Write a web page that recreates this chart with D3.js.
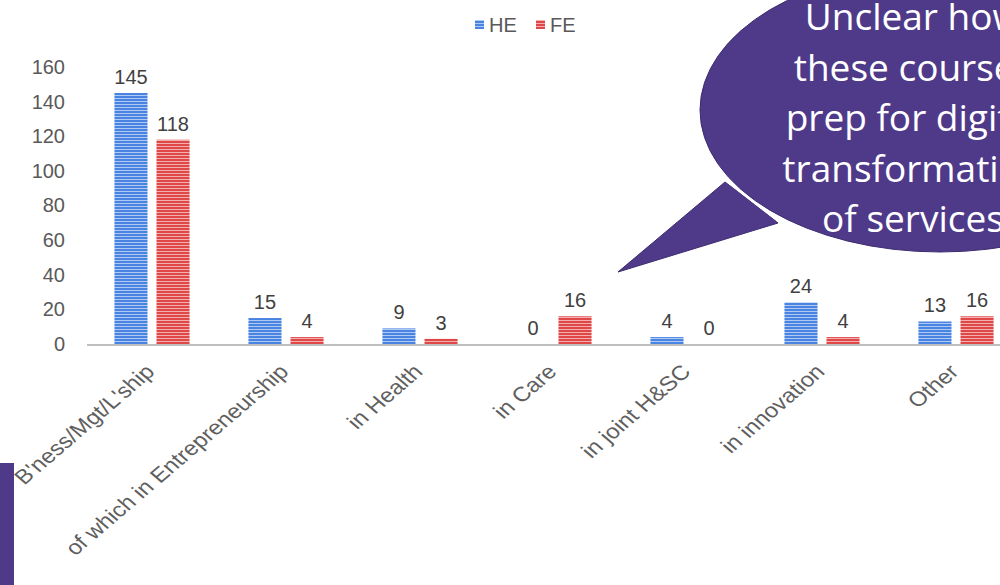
<!DOCTYPE html>
<html lang="en">
<head>
<meta charset="UTF-8">
<title>HE / FE courses</title>
<script src="https://d3js.org/d3.v7.min.js"></script>
<style>
  body { margin: 0; background: #fff; }
  svg { display: block; font-family: "Liberation Sans", Arial, sans-serif; }
</style>
</head>
<body>
<div id="chart"></div>
<script>
// data
const categories = ["B'ness/Mgt/L'ship", "of which in Entrepreneurship", "in Health", "in Care", "in joint H&SC", "in innovation", "Other"];
const heValues = [145, 15, 9, 0, 4, 24, 13];
const feValues = [118, 4, 3, 16, 0, 4, 16];
const seriesNames = ["HE", "FE"];
const yTicks = [0, 20, 40, 60, 80, 100, 120, 140, 160];
const bubbleLines = ["Unclear how", "these courses", "prep for digital", "transformation", "of services"];

const width = 1000, height = 585;
const svg = d3.select("#chart").append("svg")
    .attr("width", width)
    .attr("height", height);

const colors = { HE: "#4a84e2", FE: "#e04848" };

// striped fills, like the original bars
const defs = svg.append("defs");
seriesNames.forEach(s => {
    const p = defs.append("pattern")
        .attr("id", "stripe-" + s)
        .attr("patternUnits", "userSpaceOnUse")
        .attr("width", 6).attr("height", 3);
    p.append("rect").attr("width", 6).attr("height", 3).attr("fill", colors[s]);
    p.append("rect").attr("y", 2).attr("width", 6).attr("height", 0.8)
        .attr("fill", "#fff").attr("opacity", 0.7);
});

const x = d3.scaleBand().domain(categories).range([85, 85 + 134 * categories.length]);
const xs = d3.scaleBand().domain(seriesNames).range([0, x.bandwidth()]).paddingInner(0.214).paddingOuter(0.7);
const y = d3.scaleLinear().domain([0, 160]).range([344, 67]);

// y tick labels (no axis line)
const yAxis = d3.axisLeft(y).tickValues(yTicks).tickSize(0).tickPadding(0);
svg.append("g").attr("transform", "translate(65,0)").call(yAxis)
    .call(g => g.select(".domain").remove())
    .selectAll("text")
    .attr("font-size", 20).attr("fill", "#595959").attr("font-family", "Liberation Sans, Arial, sans-serif");

const rows = categories.map((c, i) => ({ c, HE: heValues[i], FE: feValues[i] }));

const groups = svg.append("g").selectAll("g").data(rows).join("g")
    .attr("transform", d => `translate(${x(d.c)},0)`);

groups.selectAll("rect").data(d => seriesNames.map(s => ({ s, v: d[s] }))).join("rect")
    .attr("x", d => xs(d.s))
    .attr("width", xs.bandwidth())
    .attr("y", d => y(d.v))
    .attr("height", d => y(0) - y(d.v))
    .attr("fill", d => `url(#stripe-${d.s})`);

groups.selectAll("text").data(d => seriesNames.map(s => ({ s, v: d[s] }))).join("text")
    .attr("x", d => xs(d.s) + xs.bandwidth() / 2)
    .attr("y", d => y(d.v) - 9)
    .attr("text-anchor", "middle")
    .attr("font-size", 20)
    .attr("fill", "#404040")
    .text(d => d.v);

// x axis line
svg.append("line")
    .attr("x1", 87).attr("x2", width)
    .attr("y1", y(0) + 1).attr("y2", y(0) + 1)
    .attr("stroke", "#bfbfbf").attr("stroke-width", 2);

// rotated category labels (-45deg, the picture is a bit stretched sideways)
svg.append("g").selectAll("text").data(categories).join("text")
    .attr("transform", d => `translate(${x(d) + x.bandwidth() / 2 + 4},${y(0) + 29}) scale(1.17,1) rotate(-45)`)
    .attr("text-anchor", "end")
    .attr("font-size", 20.5)
    .attr("fill", "#5f5f5f")
    .text(d => d);

// legend
const legend = svg.append("g").attr("transform", "translate(475,24)");
seriesNames.forEach((s, i) => {
    const lg = legend.append("g").attr("transform", `translate(${i * 61},0)`);
    lg.append("rect").attr("x", 0).attr("y", -4).attr("width", 9).attr("height", 9)
        .attr("fill", `url(#stripe-${s})`);
    lg.append("text").attr("x", 14).attr("y", 8).attr("font-size", 20)
        .attr("fill", "#595959").text(s);
});

// speech bubble callout
const purple = "#4f3a8a";
svg.append("path")
    .attr("d", "M725,182 L618,272 L778,223 Z")
    .attr("fill", purple).attr("stroke", "#3d2c6e").attr("stroke-width", 1);
svg.append("ellipse")
    .attr("cx", 940).attr("cy", 110).attr("rx", 240).attr("ry", 142)
    .attr("fill", purple).attr("stroke", "#3d2c6e").attr("stroke-width", 1);
svg.append("path")
    .attr("d", "M728,184 L622,269 L776,221 Z")
    .attr("fill", purple);

svg.append("g").selectAll("text").data(bubbleLines).join("text")
    .attr("x", 913)
    .attr("y", (d, i) => 30 + i * 50.5)
    .attr("text-anchor", "middle")
    .attr("font-family", "'Open Sans', Lato, sans-serif")
    .attr("font-size", 37)
    .attr("fill", "#fff")
    .text(d => d);

// purple strip at the bottom left
svg.append("rect")
    .attr("x", 0).attr("y", 463).attr("width", 14).attr("height", height - 463)
    .attr("fill", purple);
</script>
</body>
</html>
